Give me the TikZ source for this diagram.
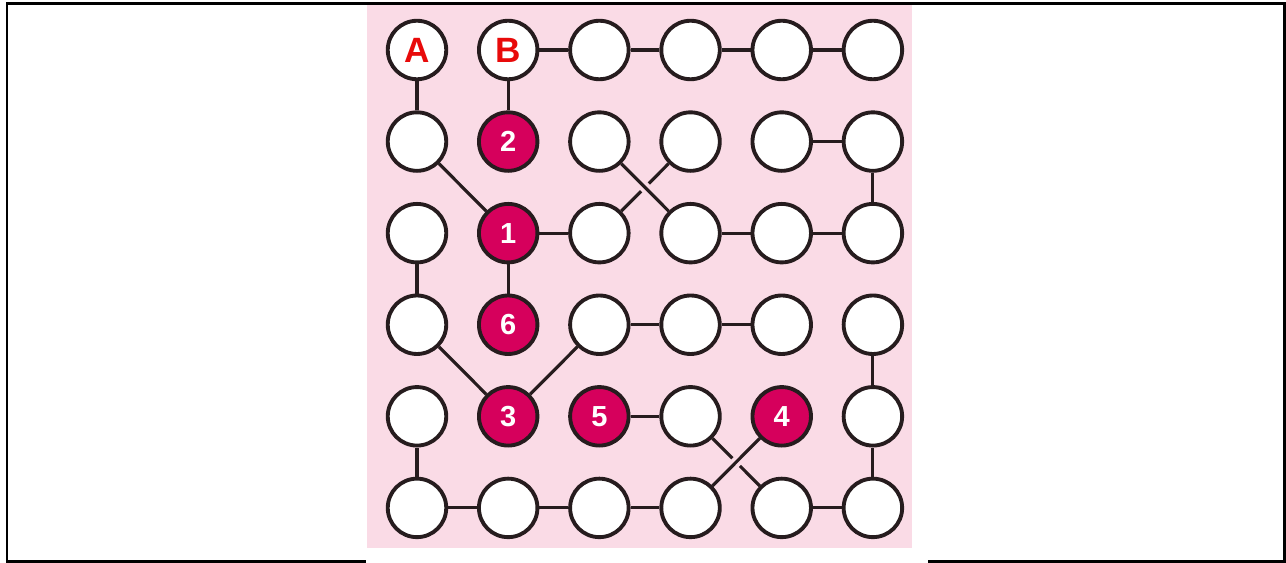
\documentclass[tikz,border=0pt]{standalone}
\usepackage{fontspec}
\setmainfont{Liberation Sans}
\usetikzlibrary{positioning}

\definecolor{bgpink}{RGB}{250,219,230}
\definecolor{pegred}{RGB}{214,0,92}
\definecolor{letred}{RGB}{232,10,10}
\definecolor{rim}{RGB}{38,28,30}

\begin{document}
\begin{tikzpicture}[
x=0.02cm, y=-0.02cm,
node distance=1.832cm and 1.824cm, on grid,
hole/.style={circle, draw=rim, line width=2.2pt, fill=white, minimum size=1.17cm, inner sep=0pt},
peg/.style={hole, fill=pegred, text=white, font=\bfseries\fontsize{16.5}{16.5}\selectfont},
letter/.style={hole, text=letred, font=\bfseries\fontsize{20}{20}\selectfont},
link/.style={draw=rim, line width=1.8pt},
gap/.style={draw=bgpink, line width=6pt, shorten <=0.42cm, shorten >=0.42cm}
]
\useasboundingbox (0,0) rectangle (1286,563);
\draw[line width=1.2pt] (7,3.5) rectangle (1284.5,561.5);
\fill[white] (366,5) rectangle (928,563);
\fill[bgpink] (367,5) rectangle (912,548);

\node[letter] (n11) at (417,50) {A};
\node[letter, right=of n11] (n12) {B};
\node[hole, right=of n12] (n13) {};
\node[hole, right=of n13] (n14) {};
\node[hole, right=of n14] (n15) {};
\node[hole, right=of n15] (n16) {};

\node[hole, below=of n11] (n21) {};
\node[peg, below=of n12] (n22) {2};
\node[hole, below=of n13] (n23) {};
\node[hole, below=of n14] (n24) {};
\node[hole, below=of n15] (n25) {};
\node[hole, below=of n16] (n26) {};

\node[hole, below=of n21] (n31) {};
\node[peg, below=of n22] (n32) {1};
\node[hole, below=of n23] (n33) {};
\node[hole, below=of n24] (n34) {};
\node[hole, below=of n25] (n35) {};
\node[hole, below=of n26] (n36) {};

\node[hole, below=of n31] (n41) {};
\node[peg, below=of n32] (n42) {6};
\node[hole, below=of n33] (n43) {};
\node[hole, below=of n34] (n44) {};
\node[hole, below=of n35] (n45) {};
\node[hole, below=of n36] (n46) {};

\node[hole, below=of n41] (n51) {};
\node[peg, below=of n42] (n52) {3};
\node[peg, below=of n43] (n53) {5};
\node[hole, below=of n44] (n54) {};
\node[peg, below=of n45] (n55) {4};
\node[hole, below=of n46] (n56) {};

\node[hole, below=of n51] (n61) {};
\node[hole, below=of n52] (n62) {};
\node[hole, below=of n53] (n63) {};
\node[hole, below=of n54] (n64) {};
\node[hole, below=of n55] (n65) {};
\node[hole, below=of n56] (n66) {};

\draw[link] (n11) -- (n21);
\draw[link] (n12) -- (n22);
\draw[link] (n12) -- (n13);
\draw[link] (n13) -- (n14);
\draw[link] (n14) -- (n15);
\draw[link] (n15) -- (n16);

\draw[link] (n21) -- (n32);
\draw[link] (n33) -- (n24);
\path[gap] (n23) -- (n34);
\draw[link] (n23) -- (n34);
\draw[link] (n25) -- (n26);
\draw[link] (n26) -- (n36);

\draw[link] (n32) -- (n33);
\draw[link] (n34) -- (n35);
\draw[link] (n35) -- (n36);
\draw[link] (n31) -- (n41);
\draw[link] (n32) -- (n42);

\draw[link] (n41) -- (n52);
\draw[link] (n43) -- (n52);
\draw[link] (n43) -- (n44);
\draw[link] (n44) -- (n45);
\draw[link] (n46) -- (n56);

\draw[link] (n51) -- (n61);
\draw[link] (n53) -- (n54);
\draw[link] (n54) -- (n65);
\path[gap] (n55) -- (n64);
\draw[link] (n55) -- (n64);
\draw[link] (n56) -- (n66);

\draw[link] (n61) -- (n62);
\draw[link] (n62) -- (n63);
\draw[link] (n63) -- (n64);
\draw[link] (n65) -- (n66);
\end{tikzpicture}
\end{document}
